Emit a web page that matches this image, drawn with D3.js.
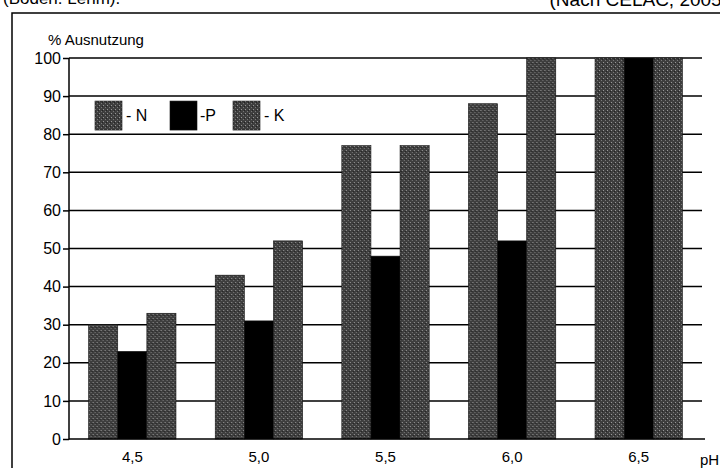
<!DOCTYPE html>
<html>
<head>
<meta charset="utf-8">
<script src="https://cdn.jsdelivr.net/npm/d3@7"></script>
<style>
  body { margin: 0; background: #fff; }
  svg { display: block; font-family: "Liberation Sans", Arial, sans-serif; }
</style>
</head>
<body>
<div id="chart"></div>
<script>
//////////
// DATA //
//////////

var phValues = ["4,5", "5,0", "5,5", "6,0", "6,5"];
var seriesNames = ["N", "P", "K"];
var valuesN = [30, 43, 77, 88, 100];
var valuesP = [23, 31, 48, 52, 100];
var valuesK = [33, 52, 77, 100, 100];
var yTicks = [0, 10, 20, 30, 40, 50, 60, 70, 80, 90, 100];

var svgWidth = 720, svgHeight = 468;
var margin = { top: 58, right: 18, bottom: 29, left: 69 };
var width = svgWidth - margin.left - margin.right,
    height = svgHeight - margin.top - margin.bottom;

var svg = d3.select("#chart").append("svg")
  .attr("width", svgWidth)
  .attr("height", svgHeight);

// stipple pattern for the grey bars
var defs = svg.append("defs");
var pat = defs.append("pattern")
  .attr("id", "stipple")
  .attr("patternUnits", "userSpaceOnUse")
  .attr("width", 4).attr("height", 4);
pat.append("rect").attr("width", 4).attr("height", 4).attr("fill", "#3e3e3e");
pat.append("rect").attr("x", 0).attr("y", 0).attr("width", 1).attr("height", 1).attr("fill", "#9a9a9a");
pat.append("rect").attr("x", 2).attr("y", 2).attr("width", 1).attr("height", 1).attr("fill", "#7a7a7a");
pat.append("rect").attr("x", 3).attr("y", 1).attr("width", 1).attr("height", 1).attr("fill", "#222");

var fills = { N: "url(#stipple)", P: "#000", K: "url(#stipple)" };

// outer frame (cut off at right and bottom)
svg.append("path")
  .attr("d", "M12," + (svgHeight + 5) + "V13H" + (svgWidth + 5))
  .attr("fill", "none").attr("stroke", "#000").attr("stroke-width", 1.5);

// clipped header texts
svg.append("text").attr("x", 3).attr("y", 4)
  .style("font-size", "17px").text("(Boden: Lehm).");
svg.append("text").attr("x", 728).attr("y", 6)
  .attr("text-anchor", "end")
  .style("font-size", "19px").text("(Nach CELAC, 2005)");

var g = svg.append("g").attr("transform", "translate(" + margin.left + "," + margin.top + ")");

//////////
// AXES //
//////////

var x = d3.scaleBand().domain(phValues).range([0, width]).paddingInner(0.31).paddingOuter(0.155);
var xSub = d3.scaleBand().domain(seriesNames).range([0, x.bandwidth()]);
var y = d3.scaleLinear().domain([0, 100]).range([height, 0]);

// gridlines
g.append("g").selectAll("line")
  .data(yTicks.filter(function (d) { return d > 0; }))
  .enter().append("line")
  .attr("x1", 0).attr("x2", width)
  .attr("y1", function (d) { return y(d); })
  .attr("y2", function (d) { return y(d); })
  .attr("stroke", "#000").attr("stroke-width", 1.5);

// bars
var data = phValues.map(function (p, i) {
  return { ph: p, N: valuesN[i], P: valuesP[i], K: valuesK[i] };
});

g.append("g").selectAll("g")
  .data(data)
  .enter().append("g")
  .attr("transform", function (d) { return "translate(" + x(d.ph) + ",0)"; })
  .selectAll("rect")
  .data(function (d) { return seriesNames.map(function (s) { return { key: s, value: d[s] }; }); })
  .enter().append("rect")
  .attr("x", function (d) { return xSub(d.key); })
  .attr("width", xSub.bandwidth())
  .attr("y", function (d) { return y(d.value); })
  .attr("height", function (d) { return height - y(d.value); })
  .attr("fill", function (d) { return fills[d.key]; })
  .attr("stroke", "#111").attr("stroke-width", 0.6);

var yAxis = d3.axisLeft(y).tickValues(yTicks).tickSize(6).tickPadding(2);
var yG = g.append("g").call(yAxis);
yG.select(".domain").attr("stroke-width", 1.5).attr("d", "M0," + (height + 0.5) + "V0");
yG.selectAll(".tick line").attr("stroke-width", 1.5);
yG.selectAll("text").style("font-size", "16px").attr("fill", "#000");

var xAxis = d3.axisBottom(x).tickSize(0).tickPadding(12);
var xG = g.append("g").attr("transform", "translate(0," + height + ")").call(xAxis);
xG.select(".domain").attr("stroke-width", 1.5).attr("d", "M0,0H" + (width + 3));
xG.selectAll("text").style("font-size", "15px").attr("fill", "#000");

// axis titles
g.append("text").attr("x", -21).attr("y", -13)
  .style("font-size", "15px").text("% Ausnutzung");
g.append("text").attr("x", width - 2).attr("y", height + 26)
  .style("font-size", "15px").text("pH");

////////////
// LEGEND //
////////////

var legendX = [26, 101, 164];
var legend = g.append("g").attr("transform", "translate(0," + y(88.7) + ")");
var items = legend.selectAll("g")
  .data(seriesNames)
  .enter().append("g")
  .attr("transform", function (d, i) { return "translate(" + legendX[i] + ",0)"; });
items.append("rect")
  .attr("width", 27).attr("height", 29)
  .attr("fill", function (d) { return fills[d]; })
  .attr("stroke", "#111").attr("stroke-width", 0.6);
items.append("text")
  .attr("x", function (d) { return d === "P" ? 30 : 31; })
  .attr("y", 20)
  .style("font-size", "16px")
  .text(function (d) { return d === "P" ? "-P" : "- " + d; });
</script>
</body>
</html>
